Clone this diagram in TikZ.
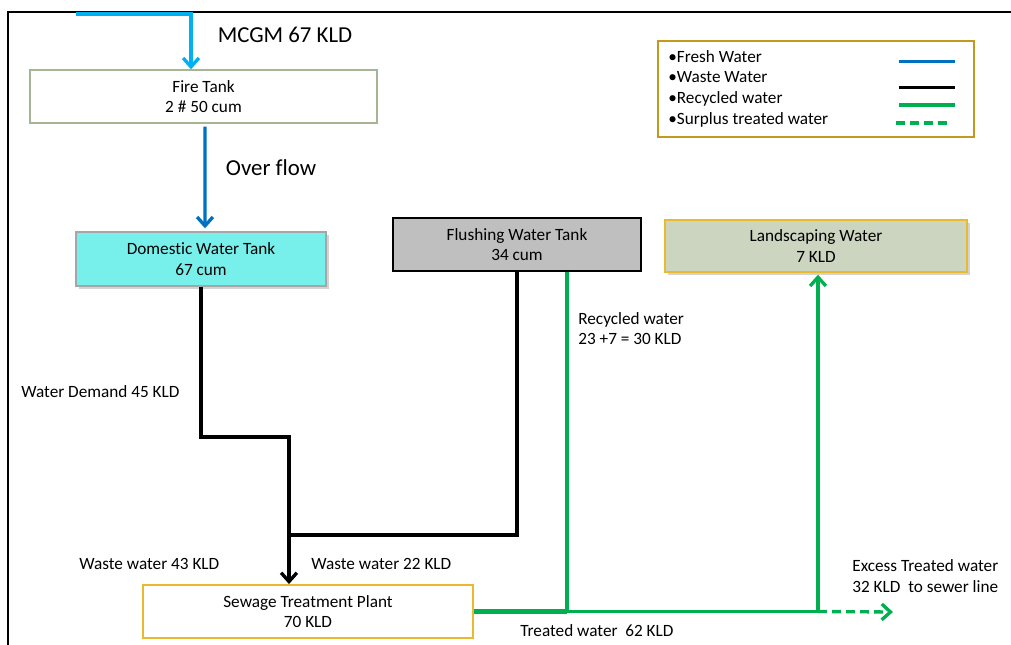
\documentclass[tikz,border=0pt]{standalone}
\usepackage{fontspec}
\setmainfont{Carlito}[Ligatures=NoCommon]
\usetikzlibrary{arrows.meta,positioning,calc,shadows}

\definecolor{freshblue}{HTML}{00B0F0}
\definecolor{flowblue}{HTML}{0070C0}
\definecolor{recgreen}{HTML}{00B050}
\definecolor{tankcyan}{HTML}{77F0EC}
\definecolor{firegreen}{HTML}{A6B593}
\definecolor{landfill}{HTML}{CBD5BF}
\definecolor{stpgold}{HTML}{E8BA2C}
\definecolor{legendgold}{HTML}{C49A1C}
\definecolor{flushgrey}{HTML}{BFBFBF}

\begin{document}
\begin{tikzpicture}[x=0.02cm,y=-0.02cm,>={Straight Barb[length=5pt,width=9pt]},
    tank/.style={draw,align=center,inner sep=0pt,line width=0.8pt,font=\fontsize{9.8}{11.8}\selectfont},
    shade/.style={drop shadow={shadow xshift=1.5pt,shadow yshift=-1.5pt,opacity=0.35}},
    lbl/.style={align=left,inner sep=0pt,anchor=west,font=\fontsize{9.8}{11.8}\selectfont},
    big/.style={inner sep=0pt,font=\fontsize{13}{15}\selectfont},
    fresh/.style={freshblue,line width=1.9pt},
    flow/.style={flowblue,line width=1.9pt},
    waste/.style={black,line width=1.9pt},
    recycled/.style={recgreen,line width=1.9pt},
    surplus/.style={recgreen,line width=1.9pt,dash pattern=on 5pt off 3pt}]

    \useasboundingbox (0,0) rectangle (1011,645);
    \draw[line width=1pt] (8,645) -- (8,12) -- (1011,12);

    % tanks
    \node[tank,draw=firegreen,minimum width=6.94cm,minimum height=1.06cm] (fire) at (203.5,96.5) {Fire Tank\\2 \# 50 cum};
    \node[tank,draw=gray!70,fill=tankcyan,shade,minimum width=5cm,minimum height=1.08cm] (dom) at (201,259) {Domestic Water Tank\\67 cum};
    \node[tank,fill=flushgrey,minimum width=4.96cm,minimum height=1.06cm] (flush) at (517,244.5) {Flushing Water Tank\\34 cum};
    \node[tank,draw=stpgold,fill=landfill,shade,minimum width=6.04cm,minimum height=1.04cm] (land) at (816,246) {Landscaping Water\\7 KLD};
    \node[tank,draw=stpgold,line width=1.1pt,minimum width=6.6cm,minimum height=1.06cm] (stp) at (308,611.5) {Sewage Treatment Plant\\70 KLD};

    % fresh water
    \coordinate (mcgm) at (76,14);
    \draw[fresh,->] (mcgm) -| ($(fire.north)+(-12.5,0)$);
    \node[big] (mcgmlbl) at (285,35) {MCGM 67 KLD};
    \draw[flow,->] ($(fire.south)+(1.5,3)$) -- ($(dom.north)+(4,-3)$);
    \node[big] (overlbl) at (271,168) {Over flow};

    % waste water
    \coordinate (wbend) at (289,437);
    \coordinate (wjoin) at (289,535);
    \draw[waste,->] (dom.south) |- (wbend) -- (wbend |- stp.north);
    \draw[waste] (flush.south) |- (wjoin);

    % recycled water
    \coordinate (rec) at ($(flush.south)+(50,0)$);
    \coordinate (tjoin) at ($(stp.east -| land.south)+(2,0)$);
    \coordinate (sewer) at (893,612);
    \draw[recycled] (rec) -- (rec |- stp.east);
    \draw[recgreen,line width=3pt] (stp.east) -- (rec |- stp.east);
    \draw[recycled] (rec |- stp.east) -- (tjoin);
    \draw[recycled,->] (tjoin) -- ($(land.south)+(2,2)$);
    \draw[surplus,->] (tjoin) -- (sewer);

    % labels
    \node[lbl] (reclbl) at (578,328.5) {Recycled water\\23 +7 = 30 KLD};
    \node[lbl] (demlbl) at (21,392) {Water Demand 45 KLD};
    \node[lbl] (w43lbl) at (79,564) {Waste water 43 KLD};
    \node[lbl] (w22lbl) at (311,564) {Waste water 22 KLD};
    \node[lbl] (excesslbl) at (852,576) {Excess Treated water\\32 KLD\ \ to sewer line};
    \node[lbl] (treatlbl) at (520,631) {Treated water\ \ 62 KLD};

    % legend
    \draw[legendgold,line width=1.1pt] (658,41) rectangle (974,137);
    \node[lbl] (lgfresh) at (668,56.5) {•Fresh Water};
    \node[lbl] (lgwaste) at (668,77.5) {•Waste Water};
    \node[lbl] (lgrec) at (668,98.5) {•Recycled water};
    \node[lbl] (lgsur) at (668,119.5) {•Surplus treated water};
    \draw[flow,line width=2.2pt] (899,61.5) -- (955,61.5);
    \draw[waste,line width=2.2pt] (899,87.5) -- (955,87.5);
    \draw[recycled,line width=2.2pt] (899,105) -- (955,105);
    \draw[surplus,line width=2.2pt] (896,123) -- (950,123);
\end{tikzpicture}
\end{document}
